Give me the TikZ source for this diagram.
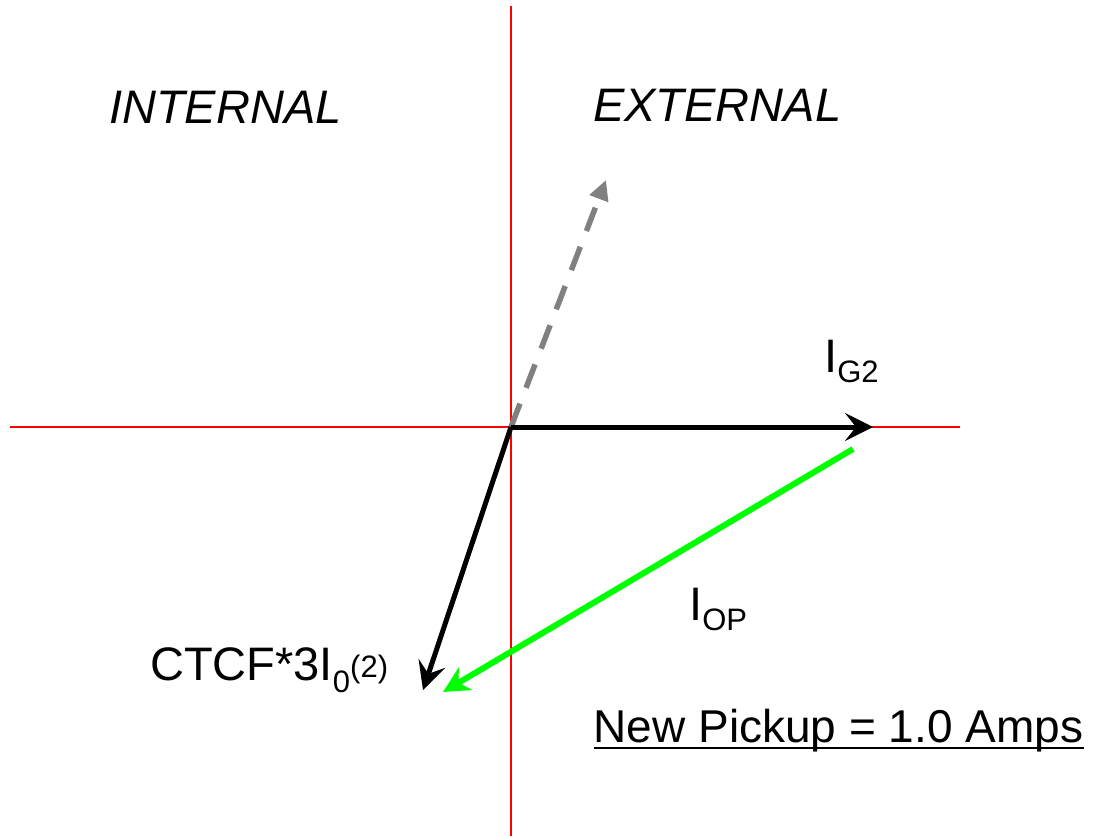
\documentclass[tikz,border=0pt]{standalone}
\usepackage{fontspec}
\setmainfont{Liberation Sans}
\usetikzlibrary{arrows.meta}
\newcommand\mysub[2]{\raisebox{-#1pt}{\fontsize{31}{31}\selectfont #2}}
\newcommand\mysup[2]{\raisebox{#1pt}{\fontsize{31}{31}\selectfont #2}}
\definecolor{axisred}{RGB}{255,0,0}
\definecolor{vecgreencol}{RGB}{0,255,0}
\definecolor{vecgraycol}{RGB}{128,128,128}
\tikzset{
  axisline/.style={draw=axisred, line width=2pt},
  lbl/.style={anchor=base west, inner sep=0pt, font=\fontsize{47}{50}\selectfont},
  vecblack/.style={draw=black, line width=5pt, -{Stealth[length=28pt,width=28pt,inset=11pt]}},
  vecgreen/.style={draw=vecgreencol, line width=6pt, -{Stealth[length=26pt,width=26pt,inset=8pt]}},
  vecgray/.style={draw=vecgraycol, line width=5.5pt, dash pattern=on 25pt off 17pt, -{Triangle[length=20pt,width=19pt]}}
}
\begin{document}
\begin{tikzpicture}[x=1pt,y=-1pt]
\useasboundingbox (0,0) rectangle (1110,836);
% axes
\coordinate (O) at (511,427);
\coordinate (axL) at (10,427);
\coordinate (axR) at (960,427);
\coordinate (axT) at (511,6);
\coordinate (axB) at (511,836);
\draw[axisline] (axL) -- (axR);
\draw[axisline] (axT) -- (axB);
% vector end points
\coordinate (gtip) at (606,180);
\coordinate (igtip) at (873,427);
\coordinate (ctip) at (423,690);
\coordinate (opstart) at (853,449);
\coordinate (optip) at (443,692);
% vectors
\draw[vecgray] (O) -- (gtip);
\draw[vecblack] (O) -- (igtip);
\draw[vecblack] (O) -- (ctip);
\draw[vecgreen] (opstart) -- (optip);
% labels
\node[lbl, font=\fontsize{47}{50}\selectfont\itshape] (internal) at (109,123) {INTERNAL};
\node[lbl, font=\fontsize{47}{50}\selectfont\itshape] (external) at (593,121) {EXTERNAL};
\node[lbl] (ig2) at (824,372) {I\mysub{10}{G2}};
\node[lbl] (iop) at (689,620) {I\mysub{10}{OP}};
\node[lbl] (ctcf) at (150,680) {CTCF*3I\mysub{12}{0}\mysup{3}{(2)}};
\node[lbl, font=\fontsize{46}{50}\selectfont] (np) at (593.5,742) {New Pickup = 1.0 Amps};
\draw[line width=2.5pt] ([yshift=-6pt]np.base west) -- ([yshift=-6pt]np.base east);
\end{tikzpicture}
\end{document}
